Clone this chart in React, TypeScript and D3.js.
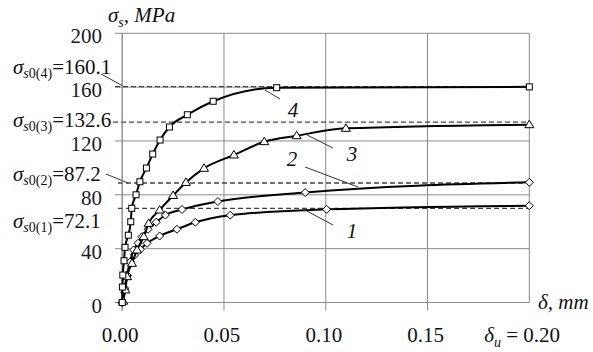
import React from "react";
import * as d3 from "d3";

const deltaTicks = [0, 0.05, 0.1, 0.15];
const sigmaTicks = [0, 40, 80, 120, 160, 200];

// curve 4 (squares)
const delta4 = [0, 0.0001, 0.0003, 0.0009, 0.0014, 0.003, 0.0042, 0.0047, 0.0068, 0.0087, 0.0119, 0.015, 0.0186, 0.0232, 0.032, 0.0447, 0.0759, 0.2];
const sigma4 = [0, 11.5, 20.4, 31, 41, 50, 60, 70, 80, 89.7, 99.9, 110.3, 120.7, 130.4, 139.5, 149.5, 159.6, 160.2];
// curve 3 (triangles)
const delta3 = [0.0005, 0.0015, 0.0024, 0.0048, 0.0073, 0.0106, 0.013, 0.0184, 0.025, 0.0313, 0.0402, 0.0549, 0.0698, 0.0857, 0.1099, 0.2];
const sigma3 = [1, 9.3, 19.2, 29.1, 39, 48.9, 58.8, 68.7, 79.5, 89.2, 99.7, 109.6, 119.5, 123.9, 129.4, 132.1];
// curve 2 (diamonds)
const delta2 = [0, 0.0011, 0.0024, 0.0038, 0.0056, 0.0078, 0.0097, 0.0127, 0.0167, 0.0212, 0.0294, 0.047, 0.0899, 0.2];
const sigma2 = [0, 10.8, 20.4, 30, 39, 44, 48.9, 54.4, 59.6, 65, 69.1, 75, 81.7, 89.3];
// curve 1 (diamonds)
const delta1 = [0, 0.0012, 0.0026, 0.004, 0.0061, 0.0089, 0.0122, 0.0184, 0.0269, 0.0359, 0.0531, 0.1004, 0.2];
const sigma1 = [0, 10, 20, 30.3, 35.3, 39.5, 44, 49.4, 54.4, 59.6, 64.9, 69.2, 71.9];

// yield levels: drawn level and printed value
const levelIdx = ["4", "3", "2", "1"];
const levelDrawn = [160.4, 134, 88.8, 70];
const levelText = ["160.1", "132.6", "87.2", "72.1"];

const W = 593;
const H = 352;
const serif = '"Liberation Serif", "Times New Roman", Times, "DejaVu Serif", serif';

const x = d3.scaleLinear().domain([0, 0.2]).range([122.2, 529.3]);
const y = d3.scaleLinear().domain([0, 200]).range([302.5, 33.3]);

const line = d3
  .line<[number, number]>()
  .x((d) => x(d[0]))
  .y((d) => y(d[1]))
  .curve(d3.curveMonotoneX);

function pts(ds: number[], ss: number[]): [number, number][] {
  return ds.map((d, i) => [d, ss[i]]);
}

const Square = ({ cx, cy }: { cx: number; cy: number }) => (
  <rect x={cx - 3} y={cy - 3} width={6} height={6} fill="#fff" stroke="#000" strokeWidth={1} />
);
const Diamond = ({ cx, cy }: { cx: number; cy: number }) => (
  <path d={`M${cx},${cy - 4}L${cx + 4},${cy}L${cx},${cy + 4}L${cx - 4},${cy}Z`} fill="#fff" stroke="#000" strokeWidth={1} />
);
const Triangle = ({ cx, cy }: { cx: number; cy: number }) => (
  <path d={`M${cx},${cy - 4.5}L${cx + 4.5},${cy + 3}L${cx - 4.5},${cy + 3}Z`} fill="#fff" stroke="#000" strokeWidth={1} />
);

const curves = [
  { data: pts(delta1, sigma1), M: Diamond },
  { data: pts(delta2, sigma2), M: Diamond },
  { data: pts(delta3, sigma3), M: Triangle },
  { data: pts(delta4, sigma4), M: Square },
];

// label placement (baseline y, dash start x, leader line)
const levelLayout = [
  { ty: 74, dx0: 115, lead: [101, 74, 123, 86] },
  { ty: 127, dx0: 113, lead: null },
  { ty: 181, dx0: 118, lead: [106, 174, 128, 183] },
  { ty: 228, dx0: 118, lead: null },
];

const curveLabels = [
  { t: "4", x: 293, y: 117, lead: [265, 90, 280, 99] },
  { t: "3", x: 352, y: 161, lead: [307, 135, 333, 148] },
  { t: "2", x: 292, y: 166, lead: [305, 167, 358, 187] },
  { t: "1", x: 352, y: 238, lead: [305, 210, 333, 225] },
];

const T = ({ style, ...p }: any) => (
  <text fill="#111" fontSize={21} style={{ fontFamily: serif, ...(style || {}) }} {...p} />
);

export default function App() {
  const x0 = x(0);
  const x1 = x(0.2);
  const yTop = y(200);
  const yBot = y(0);
  return (
    <svg width={W} height={H} style={{ position: "absolute", left: 0, top: 0, background: "#fff", fontFamily: serif }}>
      <rect width={W} height={H} fill="#fff" />
      {/* grid */}
      {sigmaTicks.map((v) => (
        <line key={"h" + v} x1={115} x2={x1} y1={y(v)} y2={y(v)} stroke="#8a8a8a" strokeWidth={1} />
      ))}
      {[...deltaTicks, 0.2].map((v) => (
        <line key={"v" + v} x1={x(v)} x2={x(v)} y1={yTop} y2={v === 0.2 ? yBot : yBot + 8} stroke="#8a8a8a" strokeWidth={1} />
      ))}
      {/* y tick labels */}
      {sigmaTicks.map((v) => (
        <T key={"yl" + v} x={102} y={y(v) + 10} textAnchor="end" fill="#1c1c2a">
          {v}
        </T>
      ))}
      {/* x tick labels */}
      {deltaTicks.map((v) => (
        <T key={"xl" + v} x={x(v) - 2} y={342} textAnchor="middle">
          {v.toFixed(2)}
        </T>
      ))}
      <T x={560} y={342} textAnchor="end">
        <tspan fontStyle="italic">δ</tspan>
        <tspan fontStyle="italic" fontSize={14} dy={5}>u</tspan>
        <tspan dy={-5}>{" = 0.20"}</tspan>
      </T>
      {/* axis titles */}
      <T x={538} y={309} fontStyle="italic">
        δ, mm
      </T>
      <T x={108} y={22} fontStyle="italic">
        <tspan>σ</tspan>
        <tspan fontSize={14} dy={5}>s</tspan>
        <tspan dy={-5}>, MPa</tspan>
      </T>
      {/* yield levels */}
      {levelDrawn.map((v, i) => {
        const L = levelLayout[i];
        return (
          <g key={"lv" + i}>
            <line x1={L.dx0} x2={x1} y1={y(v)} y2={y(v)} stroke="#444" strokeWidth={1.3} strokeDasharray="5,3" />
            {L.lead && (
              <line x1={L.lead[0]} y1={L.lead[1]} x2={L.lead[2]} y2={L.lead[3]} stroke="#333" strokeWidth={1} />
            )}
            <T x={13} y={L.ty}>
              <tspan fontStyle="italic">σ</tspan>
              <tspan fontSize={14} dy={4} fontStyle="italic">s</tspan>
              <tspan fontSize={14}>{`0(${levelIdx[i]})`}</tspan>
              <tspan dy={-4}>{`=${levelText[i]}`}</tspan>
            </T>
          </g>
        );
      })}
      {/* axis */}
      <line x1={x0} x2={x0} y1={yTop} y2={yBot + 8} stroke="#8a8a8a" strokeWidth={1} />
      {/* curves */}
      {curves.map((c, i) => (
        <g key={"c" + i}>
          <path d={line(c.data) || ""} fill="none" stroke="#000" strokeWidth={2} />
          {c.data.map((d, j) => (
            <c.M key={j} cx={x(d[0])} cy={y(d[1])} />
          ))}
        </g>
      ))}
      {/* curve labels */}
      {curveLabels.map((c) => (
        <g key={"cl" + c.t}>
          <line x1={c.lead[0]} y1={c.lead[1]} x2={c.lead[2]} y2={c.lead[3]} stroke="#333" strokeWidth={1} />
          <T x={c.x} y={c.y} fontStyle="italic" textAnchor="middle">
            {c.t}
          </T>
        </g>
      ))}
    </svg>
  );
}
